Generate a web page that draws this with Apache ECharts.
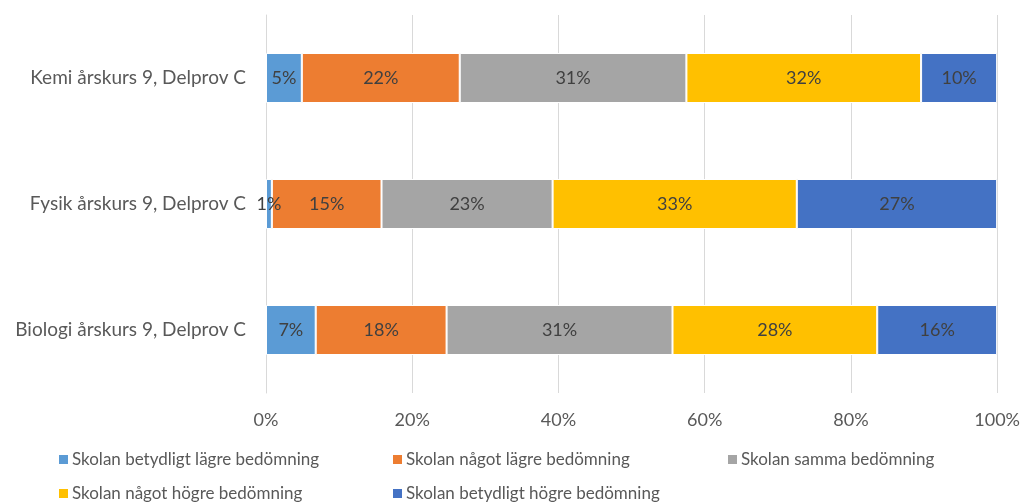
<!DOCTYPE html>
<html>
<head>
<meta charset="utf-8">
<script src="https://cdn.jsdelivr.net/npm/echarts@6/dist/echarts.min.js"></script>
<style>
  html, body { margin: 0; padding: 0; background: #fff; }
  #main { width: 1023px; height: 503px; }
</style>
</head>
<body>
<div id="main"></div>
<script>
// kategorier, uppifrån och ned
var categories = ['Kemi årskurs 9, Delprov C', 'Fysik årskurs 9, Delprov C', 'Biologi årskurs 9, Delprov C']
var seriesNames = [
  'Skolan betydligt lägre bedömning',
  'Skolan något lägre bedömning',
  'Skolan samma bedömning',
  'Skolan något högre bedömning',
  'Skolan betydligt högre bedömning'
]
// andelar i procent
var betydligtLagre = [4.9, 0.8, 6.8]
var nagotLagre = [21.6, 15.0, 17.9]
var samma = [31.0, 23.4, 30.9]
var nagotHogre = [32.1, 33.4, 28.0]
var betydligtHogre = [10.4, 27.4, 16.4]
var xTicks = [0, 20, 40, 60, 80, 100]

var colors = ['#5B9BD5', '#ED7D31', '#A5A5A5', '#FFC000', '#4472C4']
var values = [betydligtLagre, nagotLagre, samma, nagotHogre, betydligtHogre]
var font = 'Lato, "Open Sans", sans-serif'

var series = seriesNames.map(function (name, i) {
  return {
    name: name,
    type: 'bar',
    stack: 'total',
    barWidth: 50,
    data: values[i],
    itemStyle: { color: colors[i], borderColor: '#fff', borderWidth: 1 },
    label: {
      show: true,
      position: 'inside',
      color: '#404040',
      fontSize: 18,
      fontFamily: font,
      formatter: function (p) { return Math.round(p.value) + '%' }
    }
  }
})

// en legend per post så att positionerna blir som i originalet
var legendPos = [[57, 451], [391, 451], [726, 451], [57, 485], [391, 485]]
var legends = seriesNames.map(function (name, i) {
  return {
    data: [name],
    left: legendPos[i][0],
    top: legendPos[i][1],
    padding: 0,
    icon: 'rect',
    itemWidth: 11,
    itemHeight: 11,
    itemGap: 4,
    textStyle: { color: '#595959', fontSize: 17, fontFamily: font, padding: [0, 0, 0, -2] }
  }
})

var option = {
  animation: false,
  color: colors,
  grid: { left: 266, right: 25, top: 15, bottom: 110 },
  legend: legends,
  xAxis: {
    type: 'value',
    min: 0,
    max: 100,
    interval: 20,
    axisLine: { show: false },
    axisTick: { show: false },
    splitLine: { lineStyle: { color: '#D9D9D9' } },
    axisLabel: {
      color: '#595959',
      fontSize: 18,
      fontFamily: font,
      margin: 18,
      formatter: function (v) { return xTicks.indexOf(v) >= 0 ? v + '%' : '' }
    }
  },
  yAxis: {
    type: 'category',
    inverse: true,
    data: categories,
    axisLine: { show: true, lineStyle: { color: '#D9D9D9' } },
    axisTick: { show: false },
    axisLabel: { color: '#595959', fontSize: 19, fontFamily: font, margin: 20 }
  },
  series: series
}

var myChart = echarts.init(document.getElementById('main'))
myChart.setOption(option)
</script>
</body>
</html>
